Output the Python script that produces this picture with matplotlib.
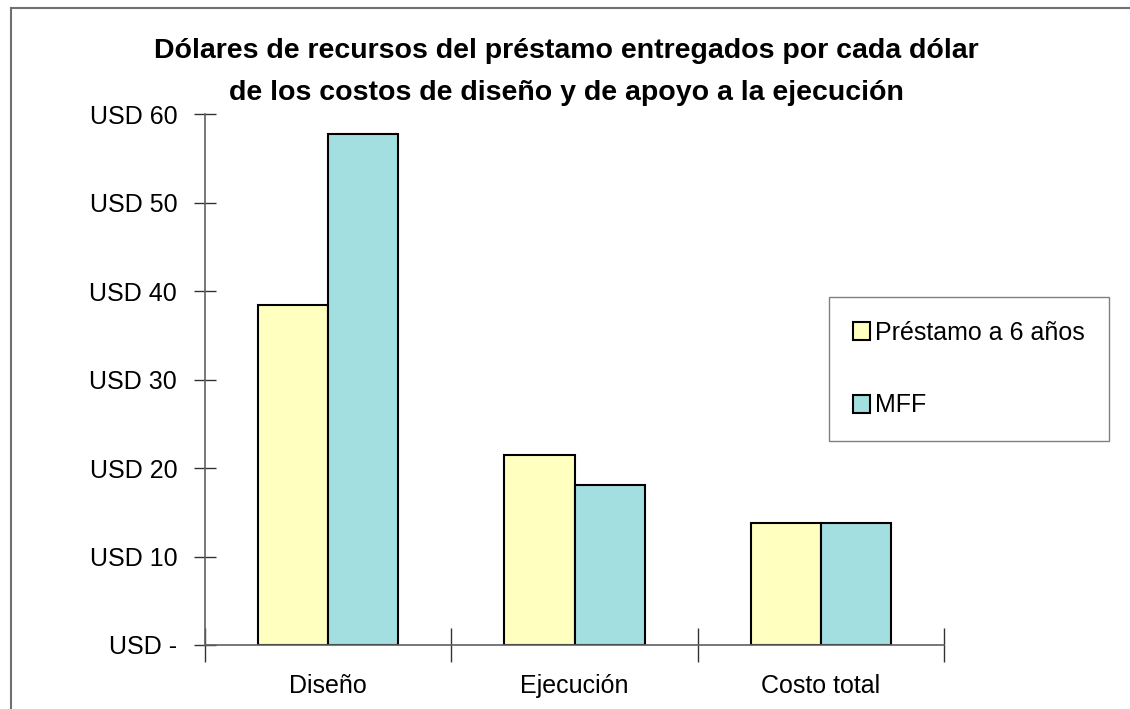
import matplotlib.pyplot as plt
import numpy as np
from matplotlib.lines import Line2D

categories = ["Diseño", "Ejecución", "Costo total"]
series = ["Préstamo a 6 años", "MFF"]
prestamo = [38.4, 21.5, 13.8]
mff = [57.7, 18.1, 13.8]
yticks = [0, 10, 20, 30, 40, 50, 60]
ytick_labels = ["USD -", "USD 10", "USD 20", "USD 30", "USD 40", "USD 50", "USD 60"]

plt.rcParams['font.family'] = ['Liberation Sans', 'DejaVu Sans']

fig = plt.figure(figsize=(11.3, 7.09), dpi=100)
ax = fig.add_axes([205/1130, 1 - 645/709, (944 - 205)/1130, (645 - 114)/709])

x = np.arange(len(categories))
w = 0.285
b1 = ax.bar(x - w/2, prestamo, w, color='#FFFFC0', edgecolor='black', linewidth=1.5, label=series[0])
b2 = ax.bar(x + w/2, mff, w, color='#A3DFE0', edgecolor='black', linewidth=1.5, label=series[1])

ax.set_xlim(-0.5, len(categories) - 0.5)
ax.set_ylim(0, 60)
ax.set_yticks(yticks)
ax.set_yticklabels(ytick_labels, fontsize=18)
ax.set_xticks(x)
ax.set_xticklabels(categories, fontsize=18)
ax.set_xticks(np.arange(len(categories) + 1) - 0.5, minor=True)
ax.tick_params(axis='x', which='major', length=0, pad=21)
ax.tick_params(axis='x', which='minor', direction='inout', length=24, width=1, color='#333333')
ax.tick_params(axis='y', direction='inout', length=16, width=1, color='#333333', pad=12)

for s in ['top', 'right']:
    ax.spines[s].set_visible(False)
for s in ['left', 'bottom']:
    ax.spines[s].set_color('#606060')
    ax.spines[s].set_linewidth(1.2)

fig.text(566/1130, 1 - 51/709, "Dólares de recursos del préstamo entregados por cada dólar",
         ha='center', va='center', fontsize=20.5, fontweight='bold')
fig.text(566/1130, 1 - 93/709, "de los costos de diseño y de apoyo a la ejecución",
         ha='center', va='center', fontsize=20.5, fontweight='bold')

leg = fig.legend(handles=[b1, b2], loc='upper left', bbox_to_anchor=(829/1130, 1 - 297/709),
                 fontsize=18, frameon=True, fancybox=False, edgecolor='#606060',
                 handlelength=0.7, handleheight=0.7, handletextpad=0.2, labelspacing=1.95,
                 borderpad=0.95, borderaxespad=0)
leg.get_frame().set_linewidth(1)

# outer chart border
fig.add_artist(Line2D([11/1130, 11/1130], [0, 1 - 8/709], color='#707070', linewidth=1.5))
fig.add_artist(Line2D([11/1130, 1], [1 - 8/709, 1 - 8/709], color='#707070', linewidth=1.5))

fig.savefig('out.png', dpi=100)
